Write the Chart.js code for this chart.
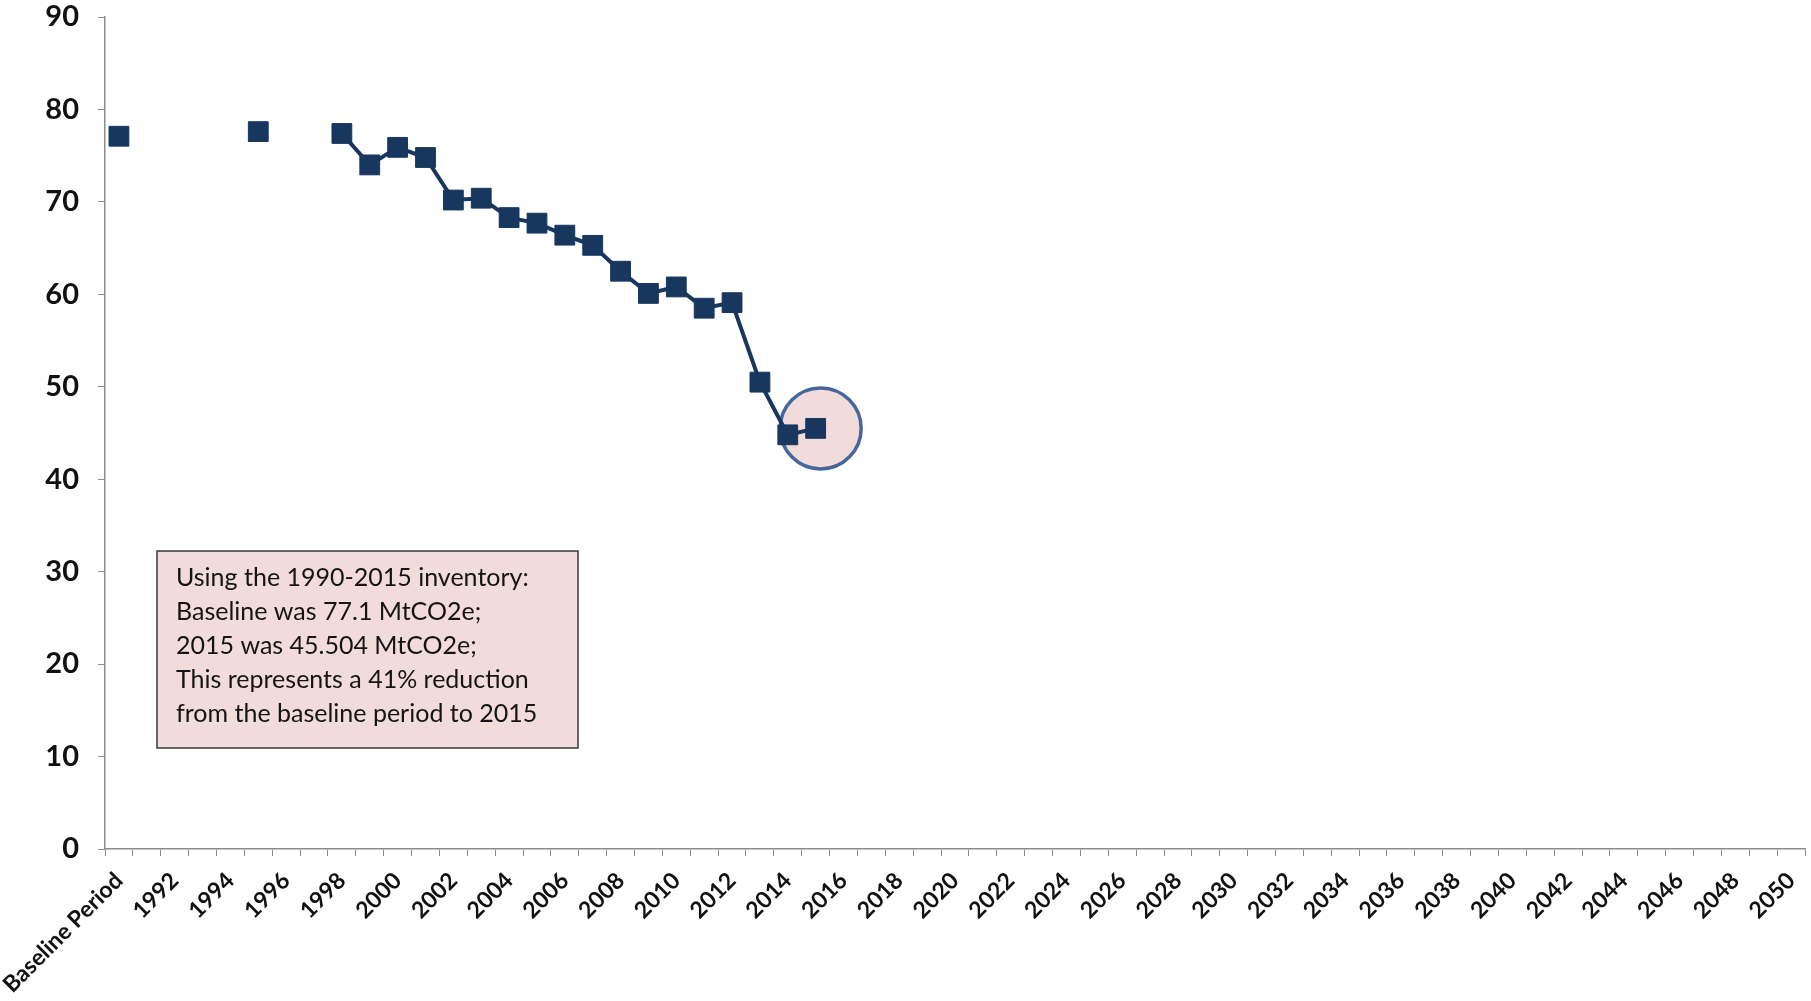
<!DOCTYPE html>
<html>
<head>
<meta charset="utf-8">
<script src="https://cdn.jsdelivr.net/npm/chart.js@4.4.1/dist/chart.umd.min.js"></script>
<style>
  html, body { margin: 0; padding: 0; background: #fff; overflow: hidden; }
  #chart { display: block; }
</style>
</head>
<body>
<canvas id="chart" width="1811" height="1001"></canvas>
<script>
// categories: baseline period then every year up to 2050
const categories = ['Baseline Period',
  '1991', '1992', '1993', '1994', '1995', '1996', '1997', '1998', '1999', '2000',
  '2001', '2002', '2003', '2004', '2005', '2006', '2007', '2008', '2009', '2010',
  '2011', '2012', '2013', '2014', '2015', '2016', '2017', '2018', '2019', '2020',
  '2021', '2022', '2023', '2024', '2025', '2026', '2027', '2028', '2029', '2030',
  '2031', '2032', '2033', '2034', '2035', '2036', '2037', '2038', '2039', '2040',
  '2041', '2042', '2043', '2044', '2045', '2046', '2047', '2048', '2049', '2050'];

// emissions, MtCO2e (null = no inventory value)
const emissions = [77.1,
  null, null, null, null, 77.6, null, null, 77.4, 74.0, 75.9,
  74.8, 70.2, 70.4, 68.3, 67.7, 66.4, 65.3, 62.5, 60.1, 60.8,
  58.5, 59.1, 50.5, 44.8, 45.5];

const yTicks = [0, 10, 20, 30, 40, 50, 60, 70, 80, 90];

const noteLines = [
  'Using the 1990-2015 inventory:',
  'Baseline was 77.1 MtCO2e;',
  '2015 was 45.504 MtCO2e;',
  'This represents a 41% reduction',
  'from the baseline period to 2015'
];
const highlightYear = '2015';

const navy = '#17375E';
const axisGrey = '#8C8C8C';
const pink = '#F2DCDB';

// circle round the latest point, drawn under the series
const highlightPlugin = {
  id: 'highlight',
  beforeDatasetsDraw(chart) {
    const { ctx, scales: { x, y } } = chart;
    const i = categories.indexOf(highlightYear);
    const cx = x.getPixelForValue(i) + 5;
    const cy = y.getPixelForValue(emissions[i]);
    ctx.save();
    ctx.beginPath();
    ctx.arc(cx, cy, 40.5, 0, Math.PI * 2);
    ctx.fillStyle = pink;
    ctx.fill();
    ctx.lineWidth = 3.5;
    ctx.strokeStyle = '#45679A';
    ctx.stroke();
    ctx.restore();
  }
};

// the text box in the lower left
const notePlugin = {
  id: 'note',
  afterDraw(chart) {
    const { ctx, chartArea } = chart;
    const left = chartArea.left + 52, top = 551, w = 421, h = 197;
    ctx.save();
    ctx.fillStyle = pink;
    ctx.fillRect(left, top, w, h);
    ctx.lineWidth = 1.5;
    ctx.strokeStyle = '#3A3A3A';
    ctx.strokeRect(left, top, w, h);
    ctx.fillStyle = '#141414';
    ctx.font = '25px Lato';
    ctx.textBaseline = 'middle';
    noteLines.forEach((t, k) => ctx.fillText(t, left + 19, top + 27 + k * 34));
    ctx.restore();
  }
};

new Chart(document.getElementById('chart'), {
  type: 'line',
  data: {
    labels: categories,
    datasets: [{
      data: emissions,
      borderColor: navy,
      backgroundColor: navy,
      borderWidth: 4,
      pointStyle: 'rect',
      pointRadius: 14,
      pointHoverRadius: 14,
      pointBorderWidth: 1,
      pointBorderColor: navy,
      pointBackgroundColor: navy,
      spanGaps: false,
      tension: 0
    }]
  },
  options: {
    responsive: false,
    animation: false,
    layout: { autoPadding: false, padding: { top: 17, right: 6, left: 0, bottom: 0 } },
    plugins: {
      legend: { display: false },
      tooltip: { enabled: false }
    },
    scales: {
      x: {
        offset: true,
        grid: { offset: true, drawOnChartArea: false, tickLength: 7, color: axisGrey },
        border: { color: axisGrey, width: 1.5 },
        ticks: {
          autoSkip: false,
          maxRotation: 45,
          minRotation: 45,
          padding: 11,
          color: '#111',
          font: { family: 'Lato', weight: 'bold', size: 23 },
          callback: (v, i) => (i % 2 === 0 ? categories[i] : '')
        },
        afterFit(s) { s.height = 152; s.paddingLeft = 0; s.paddingRight = 0; }
      },
      y: {
        min: 0,
        max: 90,
        afterBuildTicks(s) { s.ticks = yTicks.map(v => ({ value: v })); },
        grid: { drawOnChartArea: false, tickLength: 7, color: axisGrey },
        border: { color: axisGrey, width: 1.5 },
        ticks: {
          padding: 19,
          color: '#111',
          font: { family: 'Lato', weight: 'bold', size: 29 }
        },
        afterFit(s) { s.width = 105; s.paddingTop = 0; s.paddingBottom = 0; }
      }
    }
  },
  plugins: [highlightPlugin, notePlugin]
});
</script>
</body>
</html>
